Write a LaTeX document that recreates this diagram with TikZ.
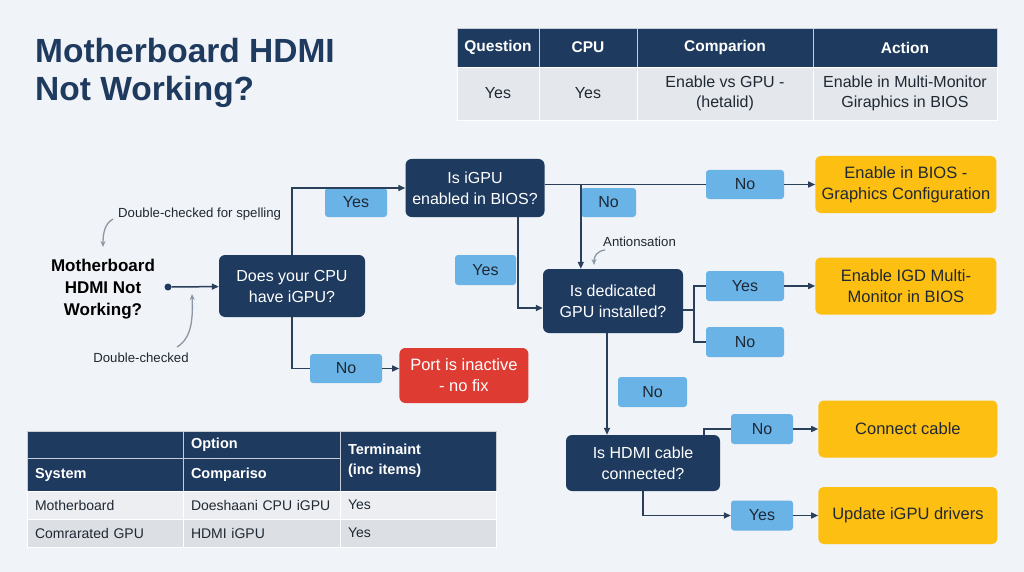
\documentclass[tikz,border=0pt]{standalone}
\usepackage{fontspec}
\setmainfont{Liberation Sans}
\usepackage{tikz}
\usetikzlibrary{arrows.meta,positioning,calc}
\definecolor{PageBg}{HTML}{F0F3F7}
\definecolor{NavyBox}{HTML}{1E3A5F}
\definecolor{NavyLine}{HTML}{2A3F5A}
\definecolor{LabelBlue}{HTML}{69B3E7}
\definecolor{WarnYellow}{HTML}{FDBF12}
\definecolor{StopRed}{HTML}{DE3B33}
\definecolor{InkDark}{HTML}{1F2833}
\definecolor{NoteGray}{HTML}{8C97A3}
\definecolor{CellLight}{HTML}{E4E7EB}
\definecolor{CellRowA}{HTML}{ECEEF1}
\definecolor{CellRowB}{HTML}{DCDFE3}
\tikzset{
  % Base box
  BX/.style={rectangle,rounded corners=6pt,align=center,inner sep=0pt,
             font=\fontsize{16}{21}\selectfont},
  % Colour variants
  nQ/.style={BX,fill=NavyBox,text=white},
  nY/.style={BX,fill=WarnYellow,text=InkDark,rounded corners=5pt,
             minimum width=181pt,minimum height=57pt,
             font=\fontsize{16.5}{21}\selectfont},
  nR/.style={BX,fill=StopRed,text=white,font=\fontsize{16.5}{21}\selectfont},
  % Yes/No tags
  LB/.style={BX,fill=LabelBlue,text=InkDark,rounded corners=3pt,
             minimum height=30pt},
  % Lines
  ln/.style={draw=NavyLine,line width=1.5pt},
  arr/.style={ln,-{Triangle[length=7pt,width=6pt]}},
  ann/.style={draw=NoteGray,line width=1.3pt,-{Stealth[length=6pt,width=5pt]}},
  NT/.style={font=\fontsize{13.2}{15}\selectfont,text=InkDark,inner sep=1pt},
  % Table cells
  TH/.style={rectangle,fill=NavyBox,text=white,draw=white!75!NavyBox,
             line width=0.8pt,outer sep=0pt,inner sep=0pt,align=center,
             font=\fontsize{15.5}{19}\selectfont\bfseries,minimum height=39pt},
  TB/.style={rectangle,fill=CellLight,text=InkDark,draw=white,
             line width=0.8pt,outer sep=0pt,inner sep=0pt,align=center,
             font=\fontsize{16}{20}\selectfont,minimum height=53pt},
  BH/.style={rectangle,fill=NavyBox,text=white,draw=white!75!NavyBox,
             line width=0.8pt,outer sep=0pt,inner xsep=8pt,inner ysep=0pt,
             align=left,font=\fontsize{14.5}{20}\selectfont\bfseries},
  BR/.style={rectangle,text=InkDark,draw=white,line width=0.8pt,
             outer sep=0pt,inner xsep=8pt,inner ysep=0pt,align=left,
             font=\fontsize{14}{18}\selectfont,minimum height=28pt,text width=140pt}
}

\begin{document}
\begin{tikzpicture}[x=1pt,y=-1pt,node distance=0pt]
  \useasboundingbox[fill=PageBg] (0,0) rectangle (1024,572);

  % --- Title ---
  \node[anchor=base west,inner sep=0pt,align=left,text=NavyBox,
        font=\fontsize{33.5}{38.5}\selectfont\bfseries] (title) at (35,101)
        {Motherboard HDMI\\Not Working?};

  % --- Summary table (top right) ---
  \node[TH,minimum width=82pt,anchor=north west] (h1) at (457,28) {Question};
  \node[TH,minimum width=98pt,right=of h1]  (h2) {CPU};
  \node[TH,minimum width=176pt,right=of h2] (h3) {Comparion};
  \node[TH,minimum width=184pt,right=of h3] (h4) {Action};
  \node[TB,minimum width=82pt,below=of h1]  (b1) {Yes};
  \node[TB,minimum width=98pt,below=of h2]  (b2) {Yes};
  \node[TB,minimum width=176pt,below=of h3] (b3) {Enable vs GPU -\\(hetalid)};
  \node[TB,minimum width=184pt,below=of h4] (b4) {Enable in Multi-Monitor\\Giraphics in BIOS};

  % --- Start ---
  \node[align=center,text=black,inner sep=0pt,
        font=\fontsize{17}{22}\selectfont\bfseries] (start) at (103,289)
        {Motherboard\\HDMI Not\\Working?};
  \node[circle,fill=NavyBox,inner sep=0pt,minimum size=7pt] (dot) at (168,287) {};

  % --- Decisions ---
  \node[nQ,minimum width=146pt,minimum height=62pt] (cpu)  at (292,286) {Does your CPU\\have iGPU?};
  \node[nQ,minimum width=139pt,minimum height=58pt] (igpu) at (475,188) {Is iGPU\\enabled in BIOS?};
  \node[nQ,minimum width=140pt,minimum height=64pt] (ded)  at (613,301) {Is dedicated\\GPU installed?};
  \node[nQ,minimum width=154pt,minimum height=56pt] (hdmi) at (643,463) {Is HDMI cable\\connected?};

  % --- Yes/No tags ---
  \node[LB,minimum width=62pt,minimum height=29pt] (yesA) at (356,202.5) {Yes};
  \node[LB,minimum width=72pt,minimum height=29pt] (noA)  at (346,368.5) {No};
  \node[LB,minimum width=78pt,minimum height=29pt] (noB)  at (745,184.5) {No};
  \node[LB,minimum width=55pt,minimum height=29pt] (noBd) at (608.5,202.5) {No};
  \node[LB,minimum width=61pt] (yesB) at (485.5,270) {Yes};
  \node[LB,minimum width=78pt] (yesC) at (745,286) {Yes};
  \node[LB,minimum width=78pt] (noC)  at (745,342) {No};
  \node[LB,minimum width=69pt] (noD)  at (652.5,392) {No};
  \node[LB,minimum width=62pt] (noE)  at (762,429) {No};
  \node[LB,minimum width=62pt] (yesF) at (762,515.5) {Yes};

  % --- Outcomes ---
  \node[nR,minimum width=129pt,minimum height=55pt,right=17pt of noA,yshift=-7pt] (port) {Port is inactive\\- no fix};
  \node[nY,right=31pt of noB]  (bios) {Enable in BIOS -\\Graphics Configuration};
  \node[nY,right=31pt of yesC] (igd)  {Enable IGD Multi-\\Monitor in BIOS};
  \node[nY,minimum width=179pt,right=25pt of noE]  (conn) {Connect cable};
  \node[nY,minimum width=179pt,right=25pt of yesF] (upd)  {Update iGPU drivers};

  % --- Notes ---
  \node[NT,anchor=west] (an1) at (117,214) {Double-checked for spelling};
  \node[NT] (an2) at (141,358) {Double-checked};
  \node[NT,anchor=west] (an3) at (602,242) {Antionsation};
  \coordinate (a1s) at (113,219);  \coordinate (a1e) at (103,247);
  \coordinate (a2s) at (177,347);  \coordinate (a2e) at (192,294);
  \coordinate (a3s) at (605,250);  \coordinate (a3e) at (594,265);
  \draw[ann] (a1s) .. controls (104,224) and (103,235) .. (a1e);
  \draw[ann] (a2s) .. controls (192,338) and (193,318) .. (a2e);
  \draw[ann] (a3s) .. controls (597,251) and (594,256) .. (a3e);

  % --- Connectors ---
  \draw[arr] (dot) -- (cpu);
  \draw[arr] (cpu.north) |- (igpu.west);
  \draw[ln]  (cpu.south) |- (noA.west);
  \draw[arr] (noA) -- (noA -| port.west);
  \draw[ln]  (igpu.east |- noB) -- (noB.west);
  \draw[arr] (noB) -- (bios);
  % igpu no -> dedicated gpu
  \coordinate (brA) at (noBd.west |- noB);
  \draw[arr] (brA) -- (brA |- ded.north);
  % igpu yes -> dedicated gpu
  \draw[arr] ([xshift=43pt]igpu.south) |- ([yshift=-7pt]ded.west);
  \draw[ln]  ([yshift=-9pt]ded.east) -- ++(11,0) coordinate (brB);
  \draw[ln]  (brB) |- (yesC.west);
  \draw[ln]  (brB) |- (noC.west);
  \draw[arr] (yesC) -- (igd);
  \draw[arr] ([xshift=-6pt]ded.south) -- ([xshift=-36pt]hdmi.north);
  \draw[ln]  ([xshift=61pt]hdmi.north) |- (noE.west);
  \draw[arr] (noE) -- (conn);
  \draw[arr] (hdmi.south) |- (yesF.west);
  \draw[arr] (yesF) -- (upd);

  % --- Detail table (bottom left) ---
  \node[BH,text width=140pt,minimum height=27pt,anchor=north west] (s0) at (27,431) {};
  \node[BH,text width=140pt,minimum height=33pt,below=of s0] (s1) {System};
  \node[BH,text width=141pt,minimum height=27pt,right=of s0] (o0) {Option};
  \node[BH,text width=141pt,minimum height=33pt,below=of o0] (o1) {Compariso};
  \node[BH,text width=140pt,minimum height=60pt,anchor=north west] (t0) at (o0.north east) {Terminaint\\(inc items)};
  \node[BR,fill=CellRowA,below=of s1] (r1a) {Motherboard};
  \node[BR,fill=CellRowA,text width=141pt,below=of o1] (r1b) {Doeshaani CPU iGPU};
  \node[BR,fill=CellRowA,below=of t0] (r1c) {Yes};
  \node[BR,fill=CellRowB,below=of r1a] (r2a) {Comrarated GPU};
  \node[BR,fill=CellRowB,text width=141pt,below=of r1b] (r2b) {HDMI iGPU};
  \node[BR,fill=CellRowB,below=of r1c] (r2c) {Yes};
\end{tikzpicture}
\end{document}
